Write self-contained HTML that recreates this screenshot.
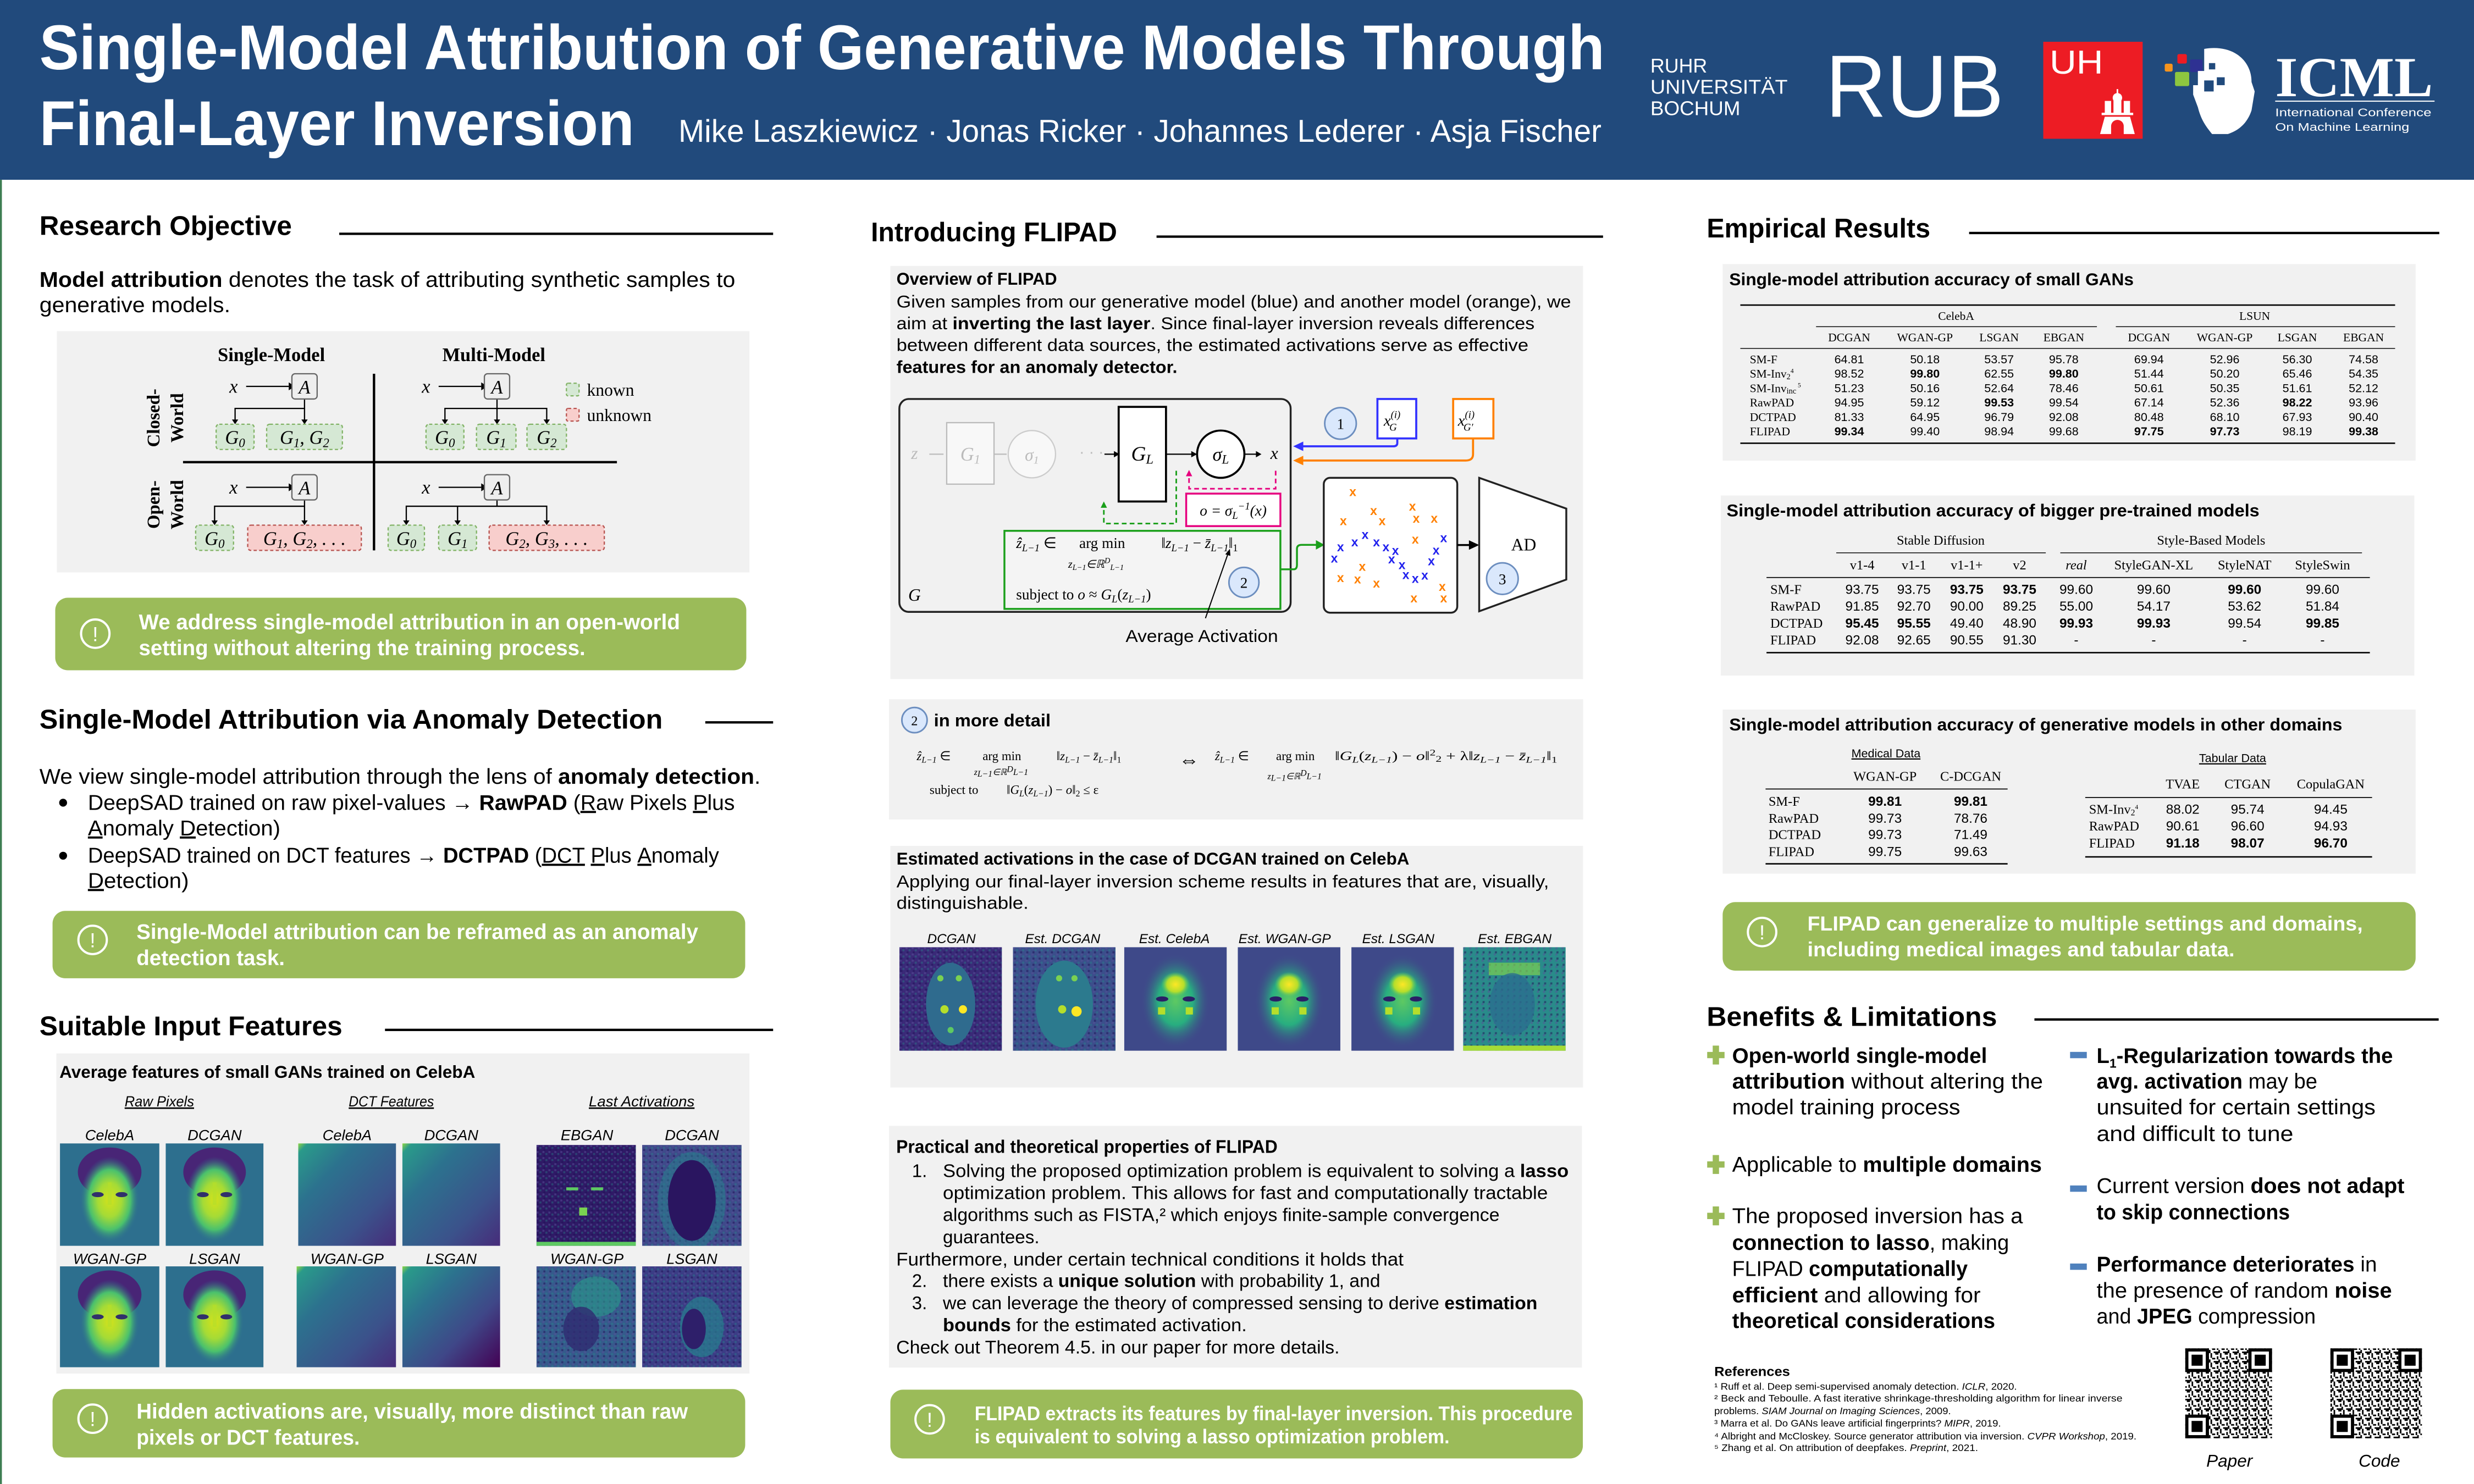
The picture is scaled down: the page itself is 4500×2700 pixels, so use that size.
<!DOCTYPE html>
<html><head><meta charset="utf-8">
<style>
html,body{margin:0;padding:0;background:#fff;}
svg{display:block;}
text{font-family:"Liberation Sans",sans-serif;}
.s{font-family:"Liberation Serif",serif;}
.b{font-weight:bold;}
.i{font-style:italic;}
.w{fill:#fff;}
</style></head><body>
<svg xmlns="http://www.w3.org/2000/svg" width="4500" height="2700" viewBox="0 0 1568 941" preserveAspectRatio="none">
<defs>
<radialGradient id="gface" cx="0.5" cy="0.5" r="0.5"><stop offset="0" stop-color="#d4e21a"/><stop offset="0.4" stop-color="#a5db36"/><stop offset="0.7" stop-color="#4ac16d"/><stop offset="1" stop-color="#2d6f8e" stop-opacity="0"/></radialGradient>
<radialGradient id="gface2" cx="0.5" cy="0.5" r="0.5"><stop offset="0" stop-color="#5ec962"/><stop offset="0.5" stop-color="#28ae80"/><stop offset="1" stop-color="#3e4989" stop-opacity="0"/></radialGradient>
<radialGradient id="gyel" cx="0.5" cy="0.5" r="0.5"><stop offset="0" stop-color="#fde725"/><stop offset="0.6" stop-color="#b5de2b"/><stop offset="1" stop-color="#5ec962" stop-opacity="0"/></radialGradient>
<radialGradient id="gdark" cx="0.5" cy="0.5" r="0.5"><stop offset="0" stop-color="#2a1560"/><stop offset="0.7" stop-color="#33246e"/><stop offset="1" stop-color="#3e4a89" stop-opacity="0"/></radialGradient>
<linearGradient id="gdct" x1="0" y1="0" x2="1" y2="1"><stop offset="0" stop-color="#8fd744"/><stop offset="0.05" stop-color="#2a9a8a"/><stop offset="0.3" stop-color="#2c728e"/><stop offset="0.7" stop-color="#3b528b"/><stop offset="1" stop-color="#472c7a"/></linearGradient>
<linearGradient id="gdct2" x1="0" y1="0" x2="1" y2="1"><stop offset="0" stop-color="#8fd744"/><stop offset="0.05" stop-color="#2a9a8a"/><stop offset="0.3" stop-color="#2c728e"/><stop offset="0.65" stop-color="#3f4788"/><stop offset="1" stop-color="#440154"/></linearGradient>
<pattern id="noise" width="6" height="6" patternUnits="userSpaceOnUse"><rect width="6" height="6" fill="none"/><rect x="0" y="0" width="2" height="2" fill="#5a4e9a" opacity=".5"/><rect x="3" y="2" width="2" height="2" fill="#21918c" opacity=".35"/><rect x="1" y="4" width="2" height="2" fill="#1f0f55" opacity=".5"/></pattern>
<pattern id="qr" width="6" height="6" patternUnits="userSpaceOnUse"><rect width="6" height="6" fill="#fff"/><rect x="0" y="0" width="2" height="1" fill="#000"/><rect x="3" y="0" width="1" height="3" fill="#000"/><rect x="1" y="2" width="1" height="2" fill="#000"/><rect x="4" y="3" width="2" height="1" fill="#000"/><rect x="0" y="5" width="3" height="1" fill="#000"/><rect x="5" y="5" width="1" height="1" fill="#000"/><rect x="2" y="4" width="1" height="1" fill="#000"/></pattern>
<symbol id="raw" viewBox="0 0 100 100" preserveAspectRatio="none"><rect width="100" height="100" fill="#2d6f8e"/><ellipse cx="50" cy="28" rx="32" ry="24" fill="#482576"/><ellipse cx="50" cy="55" rx="30" ry="42" fill="url(#gface)"/><ellipse cx="38" cy="50" rx="6" ry="2.5" fill="#31306b"/><ellipse cx="62" cy="50" rx="6" ry="2.5" fill="#31306b"/><rect x="48" y="38" width="4" height="22" fill="#b5de2b" opacity=".7"/></symbol>
<symbol id="dct" viewBox="0 0 100 100" preserveAspectRatio="none"><rect width="100" height="100" fill="url(#gdct)"/></symbol>
<symbol id="dct2" viewBox="0 0 100 100" preserveAspectRatio="none"><rect width="100" height="100" fill="url(#gdct2)"/></symbol>
<symbol id="actE" viewBox="0 0 100 100" preserveAspectRatio="none"><rect width="100" height="100" fill="#2f1a66"/><rect width="100" height="100" fill="url(#noise)"/><rect x="30" y="42" width="12" height="3" fill="#5ec962"/><rect x="55" y="42" width="12" height="3" fill="#5ec962"/><rect x="43" y="62" width="8" height="8" fill="#7ad151"/><rect x="0" y="96" width="100" height="4" fill="#5ec962"/></symbol>
<symbol id="actD" viewBox="0 0 100 100" preserveAspectRatio="none"><rect width="100" height="100" fill="#3f4a8a"/><rect width="100" height="100" fill="url(#noise)"/><ellipse cx="50" cy="55" rx="34" ry="48" fill="#25848e" opacity=".5"/><ellipse cx="50" cy="55" rx="24" ry="40" fill="#2a1560"/></symbol>
<symbol id="actW" viewBox="0 0 100 100" preserveAspectRatio="none"><rect width="100" height="100" fill="#365a8c"/><rect width="100" height="100" fill="url(#noise)"/><ellipse cx="60" cy="30" rx="25" ry="20" fill="#2a9a8a" opacity=".6"/><ellipse cx="45" cy="62" rx="18" ry="22" fill="#2f2a70" opacity=".8"/></symbol>
<symbol id="actL" viewBox="0 0 100 100" preserveAspectRatio="none"><rect width="100" height="100" fill="#3b3d85"/><rect width="100" height="100" fill="url(#noise)"/><ellipse cx="60" cy="60" rx="22" ry="30" fill="#27808e" opacity=".7"/><ellipse cx="52" cy="62" rx="12" ry="20" fill="#2e1f6a"/></symbol>
<symbol id="estD" viewBox="0 0 100 100" preserveAspectRatio="none"><rect width="100" height="100" fill="#3a2a78"/><rect width="100" height="100" fill="url(#noise)"/><ellipse cx="50" cy="55" rx="24" ry="40" fill="#2f6b8e"/><circle cx="40" cy="30" r="3" fill="#7ad151"/><circle cx="58" cy="30" r="3" fill="#7ad151"/><circle cx="44" cy="60" r="4" fill="#b5de2b"/><circle cx="62" cy="60" r="4" fill="#fde725"/><circle cx="50" cy="80" r="3" fill="#5ec962"/></symbol>
<symbol id="estD2" viewBox="0 0 100 100" preserveAspectRatio="none"><rect width="100" height="100" fill="#3b4f8b"/><rect width="100" height="100" fill="url(#noise)"/><ellipse cx="50" cy="55" rx="28" ry="42" fill="#2c7a8e"/><circle cx="45" cy="30" r="3" fill="#7ad151"/><circle cx="60" cy="30" r="3" fill="#7ad151"/><circle cx="48" cy="60" r="4" fill="#b5de2b"/><circle cx="62" cy="62" r="5" fill="#fde725"/></symbol>
<symbol id="est" viewBox="0 0 100 100" preserveAspectRatio="none"><rect width="100" height="100" fill="#3e4989"/><ellipse cx="50" cy="52" rx="34" ry="46" fill="url(#gface2)"/><ellipse cx="50" cy="36" rx="14" ry="12" fill="url(#gyel)"/><ellipse cx="37" cy="50" rx="6" ry="2.5" fill="#2a1f66"/><ellipse cx="63" cy="50" rx="6" ry="2.5" fill="#2a1f66"/><rect x="33" y="58" width="7" height="7" fill="#b5de2b"/><rect x="60" y="58" width="7" height="7" fill="#b5de2b"/></symbol>
<symbol id="estE" viewBox="0 0 100 100" preserveAspectRatio="none"><rect width="100" height="100" fill="#2a8a8a"/><rect width="100" height="100" fill="url(#noise)"/><rect x="25" y="15" width="50" height="12" fill="#7ad151" opacity=".7"/><ellipse cx="48" cy="55" rx="22" ry="30" fill="#2b6e8e" opacity=".8"/><rect x="0" y="95" width="100" height="5" fill="#a5db36"/></symbol>
</defs>

<!-- header -->
<rect x="0" y="0" width="1568" height="114" fill="#214a7c"/>
<text x="25" y="44" font-size="40" class="b w" textLength="992" lengthAdjust="spacingAndGlyphs">Single-Model Attribution of Generative Models Through</text>
<text x="25" y="92" font-size="40" class="b w" textLength="377" lengthAdjust="spacingAndGlyphs">Final-Layer Inversion</text>
<text x="430" y="90" font-size="20" class="w" textLength="585" lengthAdjust="spacingAndGlyphs">Mike Laszkiewicz · Jonas Ricker · Johannes Lederer · Asja Fischer</text>
<text x="1046" y="46" font-size="12.5" class="w" textLength="36" lengthAdjust="spacingAndGlyphs">RUHR</text>
<text x="1046" y="59.5" font-size="12.5" class="w" textLength="87" lengthAdjust="spacingAndGlyphs">UNIVERSITÄT</text>
<text x="1046" y="73" font-size="12.5" class="w" textLength="57" lengthAdjust="spacingAndGlyphs">BOCHUM</text>
<text x="1157" y="74" font-size="56" class="w" textLength="113" lengthAdjust="spacingAndGlyphs">RUB</text>
<rect x="1295" y="26.5" width="63" height="61.5" fill="#ed1c24"/>
<text x="1299" y="46.7" font-size="21" class="w" textLength="34" lengthAdjust="spacingAndGlyphs">UH</text>
<g fill="#fff"><rect x="1334" y="64" width="4" height="8"/><rect x="1346" y="64" width="4" height="8"/><rect x="1339.5" y="62" width="5" height="10"/><circle cx="1342" cy="62" r="3"/><rect x="1332" y="71.5" width="20" height="1.5"/><path d="M1334 74 H1350 L1353 85 H1346 V80 A4 4 0 0 0 1338 80 V85 H1331 Z"/><rect x="1341.5" y="56.5" width="1" height="4"/></g>
<rect x="1372" y="40.4" width="5" height="5" rx="1" fill="#f7941d"/>
<rect x="1380" y="34.3" width="6" height="6" rx="1" fill="#ed1c24"/>
<rect x="1388" y="37.7" width="8" height="8" rx="1" fill="#2e3192"/>
<rect x="1378.5" y="45.6" width="9" height="9" rx="1" fill="#8dc63f"/>
<path d="M1397 31 C1415 28 1427 38 1427 52 L1429 58 L1427 70 C1424 79 1418 83 1412 85 L1402 85 C1398 80 1395 76 1393 68 L1390 60 V54 H1393 V45 H1397 Z" fill="#fff"/>
<rect x="1400" y="40" width="4" height="4" fill="#214a7c"/><rect x="1405" y="49" width="5" height="5" fill="#214a7c"/><rect x="1397" y="51" width="6" height="7" fill="#214a7c"/>
<text x="1442" y="61" font-size="36" class="b w s" textLength="100" lengthAdjust="spacingAndGlyphs">ICML</text>
<rect x="1442" y="63.8" width="101" height="0.7" fill="#fff"/>
<text x="1442" y="73.7" font-size="7" class="w" textLength="99" lengthAdjust="spacingAndGlyphs">International Conference</text>
<text x="1442" y="83" font-size="7" class="w" textLength="85" lengthAdjust="spacingAndGlyphs">On Machine Learning</text>
<rect x="0" y="114" width="1.2" height="827" fill="#3d7d52"/>

<!-- LEFT COLUMN -->
<text x="25" y="149" font-size="17" class="b" textLength="160" lengthAdjust="spacingAndGlyphs">Research Objective</text>
<rect x="215" y="147.5" width="275" height="1.5" fill="#000"/>
<text x="25" y="182" font-size="13.5" textLength="441" lengthAdjust="spacingAndGlyphs"><tspan class="b">Model attribution</tspan> denotes the task of attributing synthetic samples to</text>
<text x="25" y="198" font-size="13.5" textLength="121" lengthAdjust="spacingAndGlyphs">generative models.</text>
<rect x="36" y="210" width="439" height="153" fill="#f1f1f1"/>
<g class="s">
<text x="172" y="229" font-size="12" class="b s" text-anchor="middle">Single-Model</text>
<text x="313" y="229" font-size="12" class="b s" text-anchor="middle">Multi-Model</text>
<text transform="translate(101,265) rotate(-90)" font-size="11.5" class="b s" text-anchor="middle">Closed-</text>
<text transform="translate(116,265) rotate(-90)" font-size="11.5" class="b s" text-anchor="middle">World</text>
<text transform="translate(101,320) rotate(-90)" font-size="11.5" class="b s" text-anchor="middle">Open-</text>
<text transform="translate(116,320) rotate(-90)" font-size="11.5" class="b s" text-anchor="middle">World</text>
</g>
<rect x="236.3" y="237" width="1.5" height="112" fill="#000"/>
<rect x="116" y="292.3" width="275" height="1.5" fill="#000"/>
<g stroke="#000" stroke-width="0.8" fill="none">
<path d="M156 245 H183"/><path d="M278 245 H305"/><path d="M156 309 H183"/><path d="M278 309 H305"/>
<path d="M193 253 V259 H149 V267"/><path d="M193 259 V267"/>
<path d="M315 253 V259 H282 V267 M315 259 V267 M315 259 H346.5 V267"/>
<path d="M193 317 V321 H136 V331 M193 321 V331"/>
<path d="M315 317 V321 H257.5 V331 M290 321 V331 M315 321 H346.5 V331"/>
</g>
<g fill="#000"><path d="M183 242.5 L187 245 L183 247.5Z"/><path d="M305 242.5 L309 245 L305 247.5Z"/><path d="M183 306.5 L187 309 L183 311.5Z"/><path d="M305 306.5 L309 309 L305 311.5Z"/>
<path d="M147 266 L151 266 L149 269Z"/><path d="M191 266 L195 266 L193 269Z"/><path d="M280 266 L284 266 L282 269Z"/><path d="M313 266 L317 266 L315 269Z"/><path d="M344.5 266 L348.5 266 L346.5 269Z"/>
<path d="M134 330 L138 330 L136 333Z"/><path d="M191 330 L195 330 L193 333Z"/><path d="M255.5 330 L259.5 330 L257.5 333Z"/><path d="M288 330 L292 330 L290 333Z"/><path d="M344.5 330 L348.5 330 L346.5 333Z"/></g>
<g fill="#eee" stroke="#666" stroke-width="0.8"><rect x="185" y="237" width="16" height="16" rx="2"/><rect x="307" y="237" width="16" height="16" rx="2"/><rect x="185" y="301" width="16" height="16" rx="2"/><rect x="307" y="301" width="16" height="16" rx="2"/></g>
<g fill="#d5e8d4" stroke="#82b366" stroke-width="0.8" stroke-dasharray="2,1.5"><rect x="137" y="269" width="24" height="16" rx="2"/><rect x="169" y="269" width="48" height="16" rx="2"/><rect x="270" y="269" width="24" height="16" rx="2"/><rect x="302" y="269" width="25" height="16" rx="2"/><rect x="334" y="269" width="25" height="16" rx="2"/><rect x="124" y="333" width="24" height="16" rx="2"/><rect x="246" y="333" width="23" height="16" rx="2"/><rect x="278" y="333" width="24" height="16" rx="2"/><rect x="359" y="243" width="8" height="8" rx="1"/></g>
<g fill="#f8cecc" stroke="#b85450" stroke-width="0.8" stroke-dasharray="2,1.5"><rect x="157" y="333" width="72" height="16" rx="2"/><rect x="310" y="333" width="73" height="16" rx="2"/><rect x="359" y="259" width="8" height="8" rx="1"/></g>
<g class="s i" font-size="12" text-anchor="middle">
<text x="148" y="249" class="s i">x</text><text x="270" y="249" class="s i">x</text><text x="148" y="313" class="s i">x</text><text x="270" y="313" class="s i">x</text>
<text x="193" y="249.5" class="s i">A</text><text x="315" y="249.5" class="s i">A</text><text x="193" y="313.5" class="s i">A</text><text x="315" y="313.5" class="s i">A</text>
<text x="149" y="281.5" class="s i">G<tspan font-size="8" dy="2">0</tspan></text>
<text x="193" y="281.5" class="s i">G<tspan font-size="8" dy="2">1</tspan><tspan dy="-2">, G</tspan><tspan font-size="8" dy="2">2</tspan></text>
<text x="282" y="281.5" class="s i">G<tspan font-size="8" dy="2">0</tspan></text>
<text x="314.5" y="281.5" class="s i">G<tspan font-size="8" dy="2">1</tspan></text>
<text x="346.5" y="281.5" class="s i">G<tspan font-size="8" dy="2">2</tspan></text>
<text x="136" y="345.5" class="s i">G<tspan font-size="8" dy="2">0</tspan></text>
<text x="193" y="345.5" class="s i">G<tspan font-size="8" dy="2">1</tspan><tspan dy="-2">, G</tspan><tspan font-size="8" dy="2">2</tspan><tspan dy="-2">, . . .</tspan></text>
<text x="257.5" y="345.5" class="s i">G<tspan font-size="8" dy="2">0</tspan></text>
<text x="290" y="345.5" class="s i">G<tspan font-size="8" dy="2">1</tspan></text>
<text x="346.5" y="345.5" class="s i">G<tspan font-size="8" dy="2">2</tspan><tspan dy="-2">, G</tspan><tspan font-size="8" dy="2">3</tspan><tspan dy="-2">, . . .</tspan></text>
</g>
<text x="372" y="251" font-size="11" class="s">known</text>
<text x="372" y="267" font-size="11" class="s">unknown</text>

<rect x="35" y="379" width="438" height="46" rx="8" fill="#9bbb59"/>
<circle cx="60.4" cy="401.8" r="9" fill="none" stroke="#fff" stroke-width="1.4"/><text x="60.4" y="406.5" font-size="13" class="w" text-anchor="middle">!</text>
<text x="88" y="399" font-size="13.5" class="b w" textLength="343" lengthAdjust="spacingAndGlyphs">We address single-model attribution in an open-world</text>
<text x="88" y="415.5" font-size="13.5" class="b w" textLength="283" lengthAdjust="spacingAndGlyphs">setting without altering the training process.</text>

<text x="25" y="462" font-size="17" class="b" textLength="395" lengthAdjust="spacingAndGlyphs">Single-Model Attribution via Anomaly Detection</text>
<rect x="447" y="457.3" width="43" height="1.5" fill="#000"/>
<text x="25" y="497" font-size="13.5" textLength="457" lengthAdjust="spacingAndGlyphs">We view single-model attribution through the lens of <tspan class="b">anomaly detection</tspan>.</text>
<circle cx="40" cy="509" r="2.5" fill="#000"/><circle cx="40" cy="542.6" r="2.5" fill="#000"/>
<text x="55.7" y="513.5" font-size="13.5" textLength="410" lengthAdjust="spacingAndGlyphs">DeepSAD trained on raw pixel-values →  <tspan class="b">RawPAD</tspan> (<tspan text-decoration="underline">R</tspan>aw Pixels <tspan text-decoration="underline">P</tspan>lus</text>
<text x="55.7" y="529.7" font-size="13.5" textLength="122" lengthAdjust="spacingAndGlyphs"><tspan text-decoration="underline">A</tspan>nomaly <tspan text-decoration="underline">D</tspan>etection)</text>
<text x="55.7" y="547" font-size="13.5" textLength="400" lengthAdjust="spacingAndGlyphs">DeepSAD trained on DCT features →  <tspan class="b">DCTPAD</tspan> (<tspan text-decoration="underline">DCT</tspan> <tspan text-decoration="underline">P</tspan>lus <tspan text-decoration="underline">A</tspan>nomaly</text>
<text x="55.7" y="563" font-size="13.5" textLength="64" lengthAdjust="spacingAndGlyphs"><tspan text-decoration="underline">D</tspan>etection)</text>

<rect x="33.3" y="577.6" width="439" height="42.7" rx="8" fill="#9bbb59"/>
<circle cx="58.7" cy="596" r="9" fill="none" stroke="#fff" stroke-width="1.4"/><text x="58.7" y="600.7" font-size="13" class="w" text-anchor="middle">!</text>
<text x="86.5" y="595.5" font-size="13.5" class="b w" textLength="356" lengthAdjust="spacingAndGlyphs">Single-Model attribution can be reframed as an anomaly</text>
<text x="86.5" y="612" font-size="13.5" class="b w" textLength="94" lengthAdjust="spacingAndGlyphs">detection task.</text>

<text x="25" y="656.5" font-size="17" class="b" textLength="192" lengthAdjust="spacingAndGlyphs">Suitable Input Features</text>
<rect x="244" y="652.3" width="246" height="1.5" fill="#000"/>
<rect x="35.7" y="668" width="439.3" height="203" fill="#f1f1f1"/>
<text x="37.7" y="683.5" font-size="11" class="b" textLength="263.5" lengthAdjust="spacingAndGlyphs">Average features of small GANs trained on CelebA</text>
<g font-size="9.5" class="i" text-anchor="middle">
<text x="101" y="701.5" class="i" text-decoration="underline" textLength="44" lengthAdjust="spacingAndGlyphs">Raw Pixels</text>
<text x="248" y="701.5" class="i" text-decoration="underline" textLength="54" lengthAdjust="spacingAndGlyphs">DCT Features</text>
<text x="406.7" y="701.5" class="i" text-decoration="underline" textLength="67" lengthAdjust="spacingAndGlyphs">Last Activations</text>
<text x="69.5" y="723" class="i">CelebA</text><text x="136" y="723" class="i">DCGAN</text><text x="220" y="723" class="i">CelebA</text><text x="286" y="723" class="i">DCGAN</text><text x="372" y="723" class="i">EBGAN</text><text x="438.5" y="723" class="i">DCGAN</text>
<text x="69.5" y="801.5" class="i">WGAN-GP</text><text x="136" y="801.5" class="i">LSGAN</text><text x="220" y="801.5" class="i">WGAN-GP</text><text x="286" y="801.5" class="i">LSGAN</text><text x="372" y="801.5" class="i">WGAN-GP</text><text x="438.5" y="801.5" class="i">LSGAN</text>
</g>
<use href="#raw" x="38" y="725" width="63" height="65"/><use href="#raw" x="105" y="725" width="62" height="65"/>
<use href="#dct" x="189" y="725" width="62" height="65"/><use href="#dct" x="255" y="725" width="62" height="65"/>
<use href="#actE" x="340" y="726" width="63" height="64"/><use href="#actD" x="407" y="726" width="63" height="64"/>
<use href="#raw" x="38" y="803" width="63" height="64"/><use href="#raw" x="105" y="803" width="62" height="64"/>
<use href="#dct" x="188" y="803" width="63" height="64"/><use href="#dct2" x="255" y="803" width="62" height="64"/>
<use href="#actW" x="340" y="803" width="63" height="64"/><use href="#actL" x="407" y="803" width="63" height="64"/>

<rect x="33.3" y="880.8" width="439" height="43.4" rx="8" fill="#9bbb59"/>
<circle cx="58.7" cy="899.6" r="9" fill="none" stroke="#fff" stroke-width="1.4"/><text x="58.7" y="904.3" font-size="13" class="w" text-anchor="middle">!</text>
<text x="86.5" y="899.5" font-size="13.5" class="b w" textLength="349.5" lengthAdjust="spacingAndGlyphs">Hidden activations are, visually,  more distinct than raw</text>
<text x="86.5" y="916" font-size="13.5" class="b w" textLength="141.5" lengthAdjust="spacingAndGlyphs">pixels or DCT features.</text>

<!-- MIDDLE COLUMN -->
<text x="552" y="153" font-size="17" class="b" textLength="156" lengthAdjust="spacingAndGlyphs">Introducing FLIPAD</text>
<rect x="733" y="149.3" width="283" height="1.5" fill="#000"/>
<rect x="564.3" y="168.6" width="439" height="262" fill="#f1f1f1"/>
<text x="568.2" y="180.5" font-size="11" class="b" textLength="101.7" lengthAdjust="spacingAndGlyphs">Overview of FLIPAD</text>
<text x="568.2" y="195" font-size="11" textLength="427.5" lengthAdjust="spacingAndGlyphs">Given samples from our generative model (blue) and another model (orange), we</text>
<text x="568.2" y="208.8" font-size="11" textLength="404.4" lengthAdjust="spacingAndGlyphs">aim at <tspan class="b">inverting the last layer</tspan>. Since final-layer inversion reveals differences</text>
<text x="568.2" y="222.6" font-size="11" textLength="400.5" lengthAdjust="spacingAndGlyphs">between different data sources, the estimated activations serve as effective</text>
<text x="568.2" y="236.4" font-size="11" class="b" textLength="178" lengthAdjust="spacingAndGlyphs">features for an anomaly detector.</text>

<!-- diagram -->
<rect x="570" y="253" width="248" height="135" rx="6" fill="none" stroke="#222" stroke-width="1.2"/>
<text x="579.6" y="291" font-size="11" class="s i" fill="#bbb" text-anchor="middle">z</text>
<path d="M589 288 H598" stroke="#bbb" stroke-width="0.8"/>
<rect x="600" y="268" width="30" height="39" fill="#f8f8f8" stroke="#bbb" stroke-width="0.8"/>
<text x="615" y="292" font-size="12" class="s i" fill="#bbb" text-anchor="middle">G<tspan font-size="8" dy="2">1</tspan></text>
<path d="M630 288 H638" stroke="#bbb" stroke-width="0.8"/>
<circle cx="654" cy="288" r="15" fill="#f8f8f8" stroke="#ccc" stroke-width="0.8"/>
<text x="654" y="292" font-size="11" class="s i" fill="#bbb" text-anchor="middle">σ<tspan font-size="7" dy="2">1</tspan></text>
<text x="684" y="290" font-size="10" fill="#bbb">· · ·</text>
<path d="M700 288 H707" stroke="#000" stroke-width="0.8"/><path d="M706 286 L709.5 288 L706 290Z"/>
<rect x="709" y="258" width="30" height="60" fill="#fff" stroke="#000" stroke-width="1.3"/>
<text x="724" y="292" font-size="13" class="s i" text-anchor="middle">G<tspan font-size="8.5" dy="2">L</tspan></text>
<path d="M739 288 H756" stroke="#000" stroke-width="0.8"/><path d="M755 286 L758.7 288 L755 290Z"/>
<circle cx="773.7" cy="288" r="15" fill="#fff" stroke="#000" stroke-width="1.3"/>
<text x="773.7" y="292" font-size="12" class="s i" text-anchor="middle">σ<tspan font-size="8" dy="2">L</tspan></text>
<path d="M788.7 288 H797" stroke="#000" stroke-width="0.8"/><path d="M796 286 L799.5 288 L796 290Z"/>
<text x="807.6" y="291" font-size="11" class="s i" text-anchor="middle">x</text>
<path d="M745.5 298.5 V332 H699.6 V322" fill="none" stroke="#1a9f1a" stroke-width="1" stroke-dasharray="3,2"/>
<path d="M697.6 322 L699.6 318 L701.6 322Z" fill="#1a9f1a"/>
<path d="M808.5 298.5 V309.9 H753.6 V302" fill="none" stroke="#e6007e" stroke-width="1" stroke-dasharray="3,2"/>
<path d="M751.6 302 L753.6 298 L755.6 302Z" fill="#e6007e"/>
<rect x="751.8" y="313" width="59.7" height="20.6" fill="#fff" stroke="#e6007e" stroke-width="1.2"/>
<text x="781.6" y="327" font-size="9.5" class="s i" text-anchor="middle">o = σ<tspan font-size="6.5" dy="2">L</tspan><tspan font-size="6.5" dy="-6">−1</tspan><tspan dy="4">(x)</tspan></text>
<rect x="636.6" y="336.6" width="174.9" height="49.5" fill="#f4f4f4" stroke="#1a9f1a" stroke-width="1.2"/>
<text x="644" y="347.5" font-size="9.5" class="s"><tspan class="i">ẑ</tspan><tspan font-size="6.5" dy="2" class="i">L−1</tspan><tspan dy="-2"> ∈</tspan></text>
<text x="684" y="347.5" font-size="9.5" class="s">arg min</text>
<text x="736" y="347.5" font-size="9.5" class="s">‖<tspan class="i">z</tspan><tspan font-size="6.5" dy="2" class="i">L−1</tspan><tspan dy="-2"> − </tspan><tspan class="i">z̄</tspan><tspan font-size="6.5" dy="2" class="i">L−1</tspan><tspan dy="-2">‖</tspan><tspan font-size="6.5" dy="2">1</tspan></text>
<text x="677" y="360" font-size="7" class="s i">z<tspan font-size="5" dy="1.5">L−1</tspan><tspan dy="-1.5">∈ℝ</tspan><tspan font-size="5" dy="-3">D</tspan><tspan font-size="5" dy="4.5">L−1</tspan></text>
<text x="644" y="380" font-size="9.5" class="s">subject to <tspan class="i">o</tspan> ≈ <tspan class="i">G</tspan><tspan font-size="6.5" dy="2" class="i">L</tspan><tspan dy="-2">(</tspan><tspan class="i">z</tspan><tspan font-size="6.5" dy="2" class="i">L−1</tspan><tspan dy="-2">)</tspan></text>
<text x="579.6" y="381" font-size="11" class="s i" text-anchor="middle">G</text>
<path d="M764 392 L778.5 350.5" stroke="#000" stroke-width="0.7"/><path d="M776.6 351.5 L779.5 348 L779.8 352.5Z"/>
<circle cx="788.4" cy="369.3" r="9.5" fill="#dae8fc" stroke="#6c8ebf" stroke-width="1"/><text x="788.4" y="372.8" font-size="9.5" class="s" text-anchor="middle">2</text>
<text x="761.7" y="407" font-size="11" text-anchor="middle" textLength="96.6" lengthAdjust="spacingAndGlyphs">Average Activation</text>
<path d="M811.5 361 H820 Q822 361 822 358 V348 Q822 345.5 825 345.5 H834" fill="none" stroke="#1a9f1a" stroke-width="1.2"/><path d="M834 342.5 L839.5 345.5 L834 348.5Z" fill="#1a9f1a"/>
<circle cx="849.6" cy="268.5" r="10" fill="#dae8fc" stroke="#6c8ebf" stroke-width="1"/><text x="849.6" y="272" font-size="9.5" class="s" text-anchor="middle">1</text>
<rect x="873" y="253" width="24.6" height="25" fill="#fff" stroke="#3333ff" stroke-width="1.3"/>
<text x="877" y="270" font-size="10" class="s i">x<tspan font-size="6.5" dy="-5">(i)</tspan><tspan font-size="6.5" dy="8" dx="-7">G</tspan></text>
<rect x="921" y="253" width="25.5" height="25" fill="#fff" stroke="#ff8000" stroke-width="1.3"/>
<text x="924" y="270" font-size="10" class="s i">x<tspan font-size="6.5" dy="-5">(i)</tspan><tspan font-size="6.5" dy="8" dx="-7">G′</tspan></text>
<path d="M885.6 278 V281 Q885.6 283 883 283 H825" fill="none" stroke="#3333ff" stroke-width="1.3"/><path d="M826 280 L819.6 283 L826 286Z" fill="#3333ff"/>
<path d="M933.6 278 V288 Q933.6 292 929 292 H825" fill="none" stroke="#ff8000" stroke-width="1.3"/><path d="M826 289 L819.6 292 L826 295Z" fill="#ff8000"/>
<rect x="839" y="303" width="84.6" height="85.5" rx="4" fill="#fff" stroke="#222" stroke-width="1.2"/>
<g font-size="8" class="b" text-anchor="middle" fill="#ff8000">
<text x="857.4" y="314.5">x</text><text x="870.6" y="326.5">x</text><text x="876" y="333">x</text><text x="851.4" y="333">x</text><text x="895.2" y="323.7">x</text><text x="897.6" y="331.5">x</text><text x="909" y="331.5">x</text><text x="897" y="344.7">x</text><text x="863.4" y="362">x</text><text x="849.6" y="369">x</text><text x="860.4" y="369.9">x</text><text x="872.4" y="372.6">x</text><text x="914.1" y="374.7">x</text><text x="896.1" y="381.9">x</text><text x="915" y="381.9">x</text></g>
<g font-size="8" class="b" text-anchor="middle" fill="#2222ee">
<text x="915" y="343.8">x</text><text x="910.2" y="351.6">x</text><text x="907.2" y="358.5">x</text><text x="849.6" y="349.5">x</text><text x="845.7" y="356.7">x</text><text x="858.6" y="346.5">x</text><text x="865.2" y="341.7">x</text><text x="872.4" y="346.5">x</text><text x="878.4" y="349.5">x</text><text x="884.4" y="351.9">x</text><text x="882" y="357.3">x</text><text x="888.6" y="360.9">x</text><text x="891" y="367.2">x</text><text x="897" y="369.6">x</text><text x="903" y="367.5">x</text></g>
<path d="M923.6 345.6 H932" stroke="#000" stroke-width="1.2"/><path d="M931 342.6 L937.5 345.6 L931 348.6Z"/>
<path d="M937.5 303 L992.7 322.5 V367.5 L937.5 387.6 Z" fill="#fff" stroke="#222" stroke-width="1.2"/>
<text x="965.7" y="349" font-size="11" class="s" text-anchor="middle">AD</text>
<circle cx="952.2" cy="366.9" r="10" fill="#dae8fc" stroke="#6c8ebf" stroke-width="1"/><text x="952.2" y="370.4" font-size="9.5" class="s" text-anchor="middle">3</text>

<!-- box 2 -->
<rect x="563.4" y="443.4" width="440" height="76.2" fill="#f1f1f1"/>
<circle cx="579.6" cy="456.6" r="8" fill="#dae8fc" stroke="#6c8ebf" stroke-width="1"/><text x="579.6" y="459.8" font-size="8.5" class="s" text-anchor="middle">2</text>
<text x="591.9" y="460.5" font-size="11" class="b" textLength="74" lengthAdjust="spacingAndGlyphs">in more detail</text>
<g class="s" font-size="8">
<text x="581" y="482" class="s"><tspan class="i">ẑ</tspan><tspan font-size="5.5" dy="1.5" class="i">L−1</tspan><tspan dy="-1.5"> ∈</tspan></text>
<text x="635" y="482" class="s" text-anchor="middle">arg min</text>
<text x="669.6" y="482" class="s">‖<tspan class="i">z</tspan><tspan font-size="5.5" dy="1.5" class="i">L−1</tspan><tspan dy="-1.5"> − </tspan><tspan class="i">z̄</tspan><tspan font-size="5.5" dy="1.5" class="i">L−1</tspan><tspan dy="-1.5">‖</tspan><tspan font-size="5.5" dy="1.5">1</tspan></text>
<text x="634.5" y="491.5" font-size="5.5" class="s i" text-anchor="middle">z<tspan dy="1">L−1</tspan><tspan dy="-1">∈ℝ</tspan><tspan dy="-2">D</tspan><tspan dy="2">L−1</tspan></text>
<text x="589.2" y="503.5" class="s">subject to</text>
<text x="638" y="503.5" class="s">‖<tspan class="i">G</tspan><tspan font-size="5.5" dy="1.5" class="i">L</tspan><tspan dy="-1.5">(</tspan><tspan class="i">z</tspan><tspan font-size="5.5" dy="1.5" class="i">L−1</tspan><tspan dy="-1.5">) − </tspan><tspan class="i">o</tspan>‖<tspan font-size="5.5" dy="1.5">2</tspan><tspan dy="-1.5"> ≤ ε</tspan></text>
<text x="753.6" y="486" font-size="13" class="s" text-anchor="middle">⇔</text>
<text x="770" y="482" class="s"><tspan class="i">ẑ</tspan><tspan font-size="5.5" dy="1.5" class="i">L−1</tspan><tspan dy="-1.5"> ∈</tspan></text>
<text x="821" y="482" class="s" text-anchor="middle">arg min</text>
<text x="820.5" y="494" font-size="5.5" class="s i" text-anchor="middle">z<tspan dy="1">L−1</tspan><tspan dy="-1">∈ℝ</tspan><tspan dy="-2">D</tspan><tspan dy="2">L−1</tspan></text>
<text x="846" y="482" class="s" textLength="141" lengthAdjust="spacingAndGlyphs">‖<tspan class="i">G</tspan><tspan font-size="5.5" dy="1.5" class="i">L</tspan><tspan dy="-1.5">(</tspan><tspan class="i">z</tspan><tspan font-size="5.5" dy="1.5" class="i">L−1</tspan><tspan dy="-1.5">) − </tspan><tspan class="i">o</tspan>‖<tspan font-size="5.5" dy="-3">2</tspan><tspan font-size="5.5" dy="4">2</tspan><tspan dy="-1"> + λ‖</tspan><tspan class="i">z</tspan><tspan font-size="5.5" dy="1.5" class="i">L−1</tspan><tspan dy="-1.5"> − </tspan><tspan class="i">z̄</tspan><tspan font-size="5.5" dy="1.5" class="i">L−1</tspan><tspan dy="-1.5">‖</tspan><tspan font-size="5.5" dy="1.5">1</tspan></text>
</g>

<!-- box 3 -->
<rect x="564.3" y="536.4" width="439" height="153.2" fill="#f1f1f1"/>
<text x="568.2" y="548.3" font-size="11" class="b" textLength="325" lengthAdjust="spacingAndGlyphs">Estimated activations in the case of DCGAN trained on CelebA</text>
<text x="568.2" y="562.7" font-size="11" textLength="413.5" lengthAdjust="spacingAndGlyphs">Applying our final-layer inversion scheme results in features that are, visually,</text>
<text x="568.2" y="576.2" font-size="11" textLength="83.7" lengthAdjust="spacingAndGlyphs">distinguishable.</text>
<g font-size="8.5" class="i" text-anchor="middle">
<text x="603" y="598" class="i">DCGAN</text><text x="673.5" y="598" class="i">Est. DCGAN</text><text x="744.3" y="598" class="i">Est. CelebA</text><text x="814.2" y="598" class="i">Est. WGAN-GP</text><text x="886.2" y="598" class="i">Est. LSGAN</text><text x="960" y="598" class="i">Est. EBGAN</text></g>
<use href="#estD" x="570" y="600.6" width="65" height="65.7"/>
<use href="#estD2" x="642" y="600.6" width="65" height="65.7"/>
<use href="#est" x="712.5" y="600.6" width="65" height="65.7"/>
<use href="#est" x="784.5" y="600.6" width="65" height="65.7"/>
<use href="#est" x="856.5" y="600.6" width="65" height="65.7"/>
<use href="#estE" x="927.3" y="600.6" width="65" height="65.7"/>

<!-- box 4 -->
<rect x="563.4" y="713.9" width="439.2" height="153.3" fill="#f1f1f1"/>
<g font-size="11.5">
<text x="568" y="731" class="b" textLength="241.7" lengthAdjust="spacingAndGlyphs">Practical and theoretical properties of FLIPAD</text>
<text x="578" y="746.3">1.</text>
<text x="597.6" y="746.3" textLength="396.6" lengthAdjust="spacingAndGlyphs">Solving the proposed optimization problem is equivalent to solving a <tspan class="b">lasso</tspan></text>
<text x="597.6" y="760.3" textLength="383.4" lengthAdjust="spacingAndGlyphs">optimization problem. This allows for fast and computationally tractable</text>
<text x="597.6" y="774.2" textLength="352.8" lengthAdjust="spacingAndGlyphs">algorithms such as FISTA,² which enjoys finite-sample convergence</text>
<text x="597.6" y="788.4" textLength="61.2" lengthAdjust="spacingAndGlyphs">guarantees.</text>
<text x="568" y="802.5" textLength="321.6" lengthAdjust="spacingAndGlyphs">Furthermore, under certain technical conditions it holds that</text>
<text x="578" y="816.1">2.</text>
<text x="597.6" y="816.1" textLength="277.2" lengthAdjust="spacingAndGlyphs">there exists a <tspan class="b">unique solution</tspan> with probability 1, and</text>
<text x="578" y="830.2">3.</text>
<text x="597.6" y="830.2" textLength="376.8" lengthAdjust="spacingAndGlyphs">we can leverage the theory of compressed sensing to derive <tspan class="b">estimation</tspan></text>
<text x="597.6" y="844.2" textLength="192.6" lengthAdjust="spacingAndGlyphs"><tspan class="b">bounds</tspan> for the estimated activation.</text>
<text x="568" y="858.3" textLength="281" lengthAdjust="spacingAndGlyphs">Check out Theorem 4.5. in our paper for more details.</text>
</g>
<rect x="564.3" y="881.2" width="438.9" height="43.6" rx="8" fill="#9bbb59"/>
<circle cx="589.2" cy="900" r="9" fill="none" stroke="#fff" stroke-width="1.4"/><text x="589.2" y="904.7" font-size="13" class="w" text-anchor="middle">!</text>
<text x="617.7" y="900.5" font-size="12.5" class="b w" textLength="379" lengthAdjust="spacingAndGlyphs">FLIPAD extracts its features by final-layer inversion. This procedure</text>
<text x="617.7" y="915.2" font-size="12.5" class="b w" textLength="301" lengthAdjust="spacingAndGlyphs">is equivalent to solving a lasso optimization problem.</text>

<!-- RIGHT COLUMN -->
<text x="1081.7" y="150.5" font-size="17" class="b" textLength="141.7" lengthAdjust="spacingAndGlyphs">Empirical Results</text>
<rect x="1248" y="147" width="298" height="1.5" fill="#000"/>
<rect x="1091.8" y="167.4" width="439.2" height="124.7" fill="#f1f1f1"/>
<text x="1096" y="180.8" font-size="11" class="b" textLength="256.3" lengthAdjust="spacingAndGlyphs">Single-model attribution accuracy of small GANs</text>
<g class="s" font-size="7.5" text-anchor="middle">
<rect x="1103" y="193" width="415" height="0.9" fill="#000"/>
<text x="1239.8" y="202.8" class="s">CelebA</text><text x="1429" y="202.8" class="s">LSUN</text>
<rect x="1151" y="206.9" width="178" height="0.5" fill="#000"/><rect x="1341" y="206.9" width="177" height="0.5" fill="#000"/>
<text x="1172" y="216.4" class="s">DCGAN</text><text x="1220" y="216.4" class="s">WGAN-GP</text><text x="1267" y="216.4" class="s">LSGAN</text><text x="1308" y="216.4" class="s">EBGAN</text><text x="1362" y="216.4" class="s">DCGAN</text><text x="1410" y="216.4" class="s">WGAN-GP</text><text x="1456" y="216.4" class="s">LSGAN</text><text x="1498" y="216.4" class="s">EBGAN</text>
<rect x="1103" y="220.7" width="415" height="0.5" fill="#000"/>
<g text-anchor="start"><text x="1109" y="230.3" class="s">SM-F</text><text x="1109" y="239.5" class="s">SM-Inv<tspan font-size="5" dy="1">2</tspan><tspan font-size="4" dy="-4">4</tspan></text><text x="1109" y="248.6" class="s">SM-Inv<tspan font-size="5" dy="1">inc</tspan><tspan font-size="4" dy="-4"> 5</tspan></text><text x="1109" y="257.8" class="s">RawPAD</text><text x="1109" y="266.9" class="s">DCTPAD</text><text x="1109" y="276.1" class="s">FLIPAD</text></g>
<g><text x="1172" y="230.3">64.81</text><text x="1220" y="230.3">50.18</text><text x="1267" y="230.3">53.57</text><text x="1308" y="230.3">95.78</text><text x="1362" y="230.3">69.94</text><text x="1410" y="230.3">52.96</text><text x="1456" y="230.3">56.30</text><text x="1498" y="230.3">74.58</text>
<text x="1172" y="239.5">98.52</text><text x="1220" y="239.5" class="b">99.80</text><text x="1267" y="239.5">62.55</text><text x="1308" y="239.5" class="b">99.80</text><text x="1362" y="239.5">51.44</text><text x="1410" y="239.5">50.20</text><text x="1456" y="239.5">65.46</text><text x="1498" y="239.5">54.35</text>
<text x="1172" y="248.6">51.23</text><text x="1220" y="248.6">50.16</text><text x="1267" y="248.6">52.64</text><text x="1308" y="248.6">78.46</text><text x="1362" y="248.6">50.61</text><text x="1410" y="248.6">50.35</text><text x="1456" y="248.6">51.61</text><text x="1498" y="248.6">52.12</text>
<text x="1172" y="257.8">94.95</text><text x="1220" y="257.8">59.12</text><text x="1267" y="257.8" class="b">99.53</text><text x="1308" y="257.8">99.54</text><text x="1362" y="257.8">67.14</text><text x="1410" y="257.8">52.36</text><text x="1456" y="257.8" class="b">98.22</text><text x="1498" y="257.8">93.96</text>
<text x="1172" y="266.9">81.33</text><text x="1220" y="266.9">64.95</text><text x="1267" y="266.9">96.79</text><text x="1308" y="266.9">92.08</text><text x="1362" y="266.9">80.48</text><text x="1410" y="266.9">68.10</text><text x="1456" y="266.9">67.93</text><text x="1498" y="266.9">90.40</text>
<text x="1172" y="276.1" class="b">99.34</text><text x="1220" y="276.1">99.40</text><text x="1267" y="276.1">98.94</text><text x="1308" y="276.1">99.68</text><text x="1362" y="276.1" class="b">97.75</text><text x="1410" y="276.1" class="b">97.73</text><text x="1456" y="276.1">98.19</text><text x="1498" y="276.1" class="b">99.38</text></g>
<rect x="1103" y="280.6" width="415" height="0.9" fill="#000"/>
</g>

<rect x="1090.6" y="314.2" width="439.6" height="114.2" fill="#f1f1f1"/>
<text x="1094.3" y="327.5" font-size="11" class="b" textLength="337.7" lengthAdjust="spacingAndGlyphs">Single-model attribution accuracy of bigger pre-trained models</text>
<g class="s" font-size="8.5" text-anchor="middle">
<text x="1230" y="345.3" class="s">Stable Diffusion</text><text x="1401.4" y="345.3" class="s">Style-Based Models</text>
<rect x="1163.8" y="350.3" width="132.8" height="0.5" fill="#000"/><rect x="1305.8" y="350.3" width="191.2" height="0.5" fill="#000"/>
<text x="1180.2" y="361" class="s">v1-4</text><text x="1213" y="361" class="s">v1-1</text><text x="1246.5" y="361" class="s">v1-1+</text><text x="1280" y="361" class="s">v2</text><text x="1315.9" y="361" class="s i">real</text><text x="1365" y="361" class="s">StyleGAN-XL</text><text x="1422.6" y="361" class="s">StyleNAT</text><text x="1472" y="361" class="s">StyleSwin</text>
<rect x="1119.6" y="365.9" width="382.4" height="0.6" fill="#000"/>
<g text-anchor="start"><text x="1122" y="376.5" class="s">SM-F</text><text x="1122" y="387.2" class="s">RawPAD</text><text x="1122" y="398" class="s">DCTPAD</text><text x="1122" y="408.7" class="s">FLIPAD</text></g>
<text x="1180.2" y="376.5">93.75</text><text x="1213" y="376.5">93.75</text><text x="1246.5" y="376.5" class="b">93.75</text><text x="1280" y="376.5" class="b">93.75</text><text x="1315.9" y="376.5">99.60</text><text x="1365" y="376.5">99.60</text><text x="1422.6" y="376.5" class="b">99.60</text><text x="1472" y="376.5">99.60</text>
<text x="1180.2" y="387.2">91.85</text><text x="1213" y="387.2">92.70</text><text x="1246.5" y="387.2">90.00</text><text x="1280" y="387.2">89.25</text><text x="1315.9" y="387.2">55.00</text><text x="1365" y="387.2">54.17</text><text x="1422.6" y="387.2">53.62</text><text x="1472" y="387.2">51.84</text>
<text x="1180.2" y="398" class="b">95.45</text><text x="1213" y="398" class="b">95.55</text><text x="1246.5" y="398">49.40</text><text x="1280" y="398">48.90</text><text x="1315.9" y="398" class="b">99.93</text><text x="1365" y="398" class="b">99.93</text><text x="1422.6" y="398">99.54</text><text x="1472" y="398" class="b">99.85</text>
<text x="1180.2" y="408.7">92.08</text><text x="1213" y="408.7">92.65</text><text x="1246.5" y="408.7">90.55</text><text x="1280" y="408.7">91.30</text><text x="1315.9" y="408.7">-</text><text x="1365" y="408.7">-</text><text x="1422.6" y="408.7">-</text><text x="1472" y="408.7">-</text>
<rect x="1119.6" y="413.4" width="382.4" height="0.9" fill="#000"/>
</g>

<rect x="1091.8" y="449.9" width="439.2" height="104.1" fill="#f1f1f1"/>
<text x="1096" y="463.2" font-size="11" class="b" textLength="388.5" lengthAdjust="spacingAndGlyphs">Single-model attribution accuracy of generative models in other domains</text>
<g font-size="8.5" text-anchor="middle" class="s">
<text x="1195.3" y="480.2" font-size="7.5" text-decoration="underline">Medical Data</text>
<text x="1194.7" y="495" class="s">WGAN-GP</text><text x="1249" y="495" class="s">C-DCGAN</text>
<rect x="1119" y="500" width="153.4" height="0.6" fill="#000"/>
<g text-anchor="start"><text x="1120.9" y="511" class="s">SM-F</text><text x="1120.9" y="521.7" class="s">RawPAD</text><text x="1120.9" y="532.1" class="s">DCTPAD</text><text x="1120.9" y="542.8" class="s">FLIPAD</text></g>
<text x="1194.7" y="511" class="b">99.81</text><text x="1249" y="511" class="b">99.81</text>
<text x="1194.7" y="521.7">99.73</text><text x="1249" y="521.7">78.76</text>
<text x="1194.7" y="532.1">99.73</text><text x="1249" y="532.1">71.49</text>
<text x="1194.7" y="542.8">99.75</text><text x="1249" y="542.8">99.63</text>
<rect x="1119" y="547.3" width="153.4" height="0.9" fill="#000"/>
<text x="1415" y="483.3" font-size="7.5" text-decoration="underline">Tabular Data</text>
<text x="1383.4" y="500" class="s">TVAE</text><text x="1424.5" y="500" class="s">CTGAN</text><text x="1477.2" y="500" class="s">CopulaGAN</text>
<rect x="1321.6" y="505.4" width="181.8" height="0.6" fill="#000"/>
<g text-anchor="start"><text x="1324" y="516" class="s">SM-Inv<tspan font-size="5.5" dy="1">2</tspan><tspan font-size="4" dy="-4">4</tspan></text><text x="1324" y="526.7" class="s">RawPAD</text><text x="1324" y="537.5" class="s">FLIPAD</text></g>
<text x="1383.4" y="516">88.02</text><text x="1424.5" y="516">95.74</text><text x="1477.2" y="516">94.45</text>
<text x="1383.4" y="526.7">90.61</text><text x="1424.5" y="526.7">96.60</text><text x="1477.2" y="526.7">94.93</text>
<text x="1383.4" y="537.5" class="b">91.18</text><text x="1424.5" y="537.5" class="b">98.07</text><text x="1477.2" y="537.5" class="b">96.70</text>
<rect x="1321.6" y="542.9" width="181.8" height="0.9" fill="#000"/>
</g>

<rect x="1091.8" y="572" width="439.2" height="43.5" rx="8" fill="#9bbb59"/>
<circle cx="1116.8" cy="591" r="9" fill="none" stroke="#fff" stroke-width="1.4"/><text x="1116.8" y="595.7" font-size="13" class="w" text-anchor="middle">!</text>
<text x="1145.5" y="590" font-size="13" class="b w" textLength="352" lengthAdjust="spacingAndGlyphs">FLIPAD can generalize to multiple settings and domains,</text>
<text x="1145.5" y="606.5" font-size="13" class="b w" textLength="270.8" lengthAdjust="spacingAndGlyphs">including medical images and tabular data.</text>

<text x="1081.7" y="650.5" font-size="17" class="b" textLength="184" lengthAdjust="spacingAndGlyphs">Benefits &amp; Limitations</text>
<rect x="1289.4" y="645.7" width="256.2" height="1.5" fill="#000"/>
<g fill="#9bbb59"><path d="M1085.5 663 h4 v4 h3.5 v4 h-3.5 v4 h-4 v-4 h-3.5 v-4 h3.5z"/><path d="M1085.5 732.4 h4 v4 h3.5 v4 h-3.5 v4 h-4 v-4 h-3.5 v-4 h3.5z"/><path d="M1085.5 765 h4 v4 h3.5 v4 h-3.5 v4 h-4 v-4 h-3.5 v-4 h3.5z"/></g>
<g fill="#4f81bd"><rect x="1312" y="667" width="10.6" height="4"/><rect x="1312" y="751.7" width="10.6" height="4"/><rect x="1312" y="801.2" width="10.6" height="4"/></g>
<g font-size="13.5">
<text x="1097.8" y="674" class="b" textLength="161.6" lengthAdjust="spacingAndGlyphs">Open-world single-model</text>
<text x="1097.8" y="690.3" textLength="197" lengthAdjust="spacingAndGlyphs"><tspan class="b">attribution</tspan> without altering the</text>
<text x="1097.8" y="706.7" textLength="144.6" lengthAdjust="spacingAndGlyphs">model training process</text>
<text x="1097.8" y="743" textLength="196.3" lengthAdjust="spacingAndGlyphs">Applicable to <tspan class="b">multiple domains</tspan></text>
<text x="1097.8" y="775.6" textLength="184.3" lengthAdjust="spacingAndGlyphs">The proposed inversion has a</text>
<text x="1097.8" y="792.6" textLength="175.5" lengthAdjust="spacingAndGlyphs"><tspan class="b">connection to lasso</tspan>, making</text>
<text x="1097.8" y="809" textLength="149.3" lengthAdjust="spacingAndGlyphs">FLIPAD <tspan class="b">computationally</tspan></text>
<text x="1097.8" y="825.9" textLength="157.5" lengthAdjust="spacingAndGlyphs"><tspan class="b">efficient</tspan> and allowing for</text>
<text x="1097.8" y="842.1" class="b" textLength="166.7" lengthAdjust="spacingAndGlyphs">theoretical considerations</text>
<text x="1328.8" y="674" class="b" textLength="187.8" lengthAdjust="spacingAndGlyphs">L<tspan font-size="8" dy="3">1</tspan><tspan dy="-3">-Regularization towards the</tspan></text>
<text x="1328.8" y="690.3" textLength="139.9" lengthAdjust="spacingAndGlyphs"><tspan class="b">avg. activation</tspan> may be</text>
<text x="1328.8" y="706.7" textLength="176.8" lengthAdjust="spacingAndGlyphs">unsuited for certain settings</text>
<text x="1328.8" y="723.5" textLength="124.7" lengthAdjust="spacingAndGlyphs">and difficult to tune</text>
<text x="1328.8" y="756.4" textLength="195.1" lengthAdjust="spacingAndGlyphs">Current version <tspan class="b">does not adapt</tspan></text>
<text x="1328.8" y="773.2" class="b" textLength="122.5" lengthAdjust="spacingAndGlyphs">to skip connections</text>
<text x="1328.8" y="806.3" textLength="177.7" lengthAdjust="spacingAndGlyphs"><tspan class="b">Performance deteriorates</tspan> in</text>
<text x="1328.8" y="822.9" textLength="187.2" lengthAdjust="spacingAndGlyphs">the presence of random <tspan class="b">noise</tspan></text>
<text x="1328.8" y="839.2" textLength="138.9" lengthAdjust="spacingAndGlyphs">and <tspan class="b">JPEG</tspan> compression</text>
</g>
<text x="1086.5" y="872.5" font-size="8.5" class="b" textLength="48" lengthAdjust="spacingAndGlyphs">References</text>
<g font-size="6">
<text x="1086.5" y="881.2" textLength="191.8" lengthAdjust="spacingAndGlyphs">¹ Ruff et al. Deep semi-supervised anomaly detection. <tspan class="i">ICLR</tspan>, 2020.</text>
<text x="1086.5" y="888.8" textLength="258.7" lengthAdjust="spacingAndGlyphs">² Beck and Teboulle. A fast iterative shrinkage-thresholding algorithm for linear inverse</text>
<text x="1086.5" y="896.7" textLength="150" lengthAdjust="spacingAndGlyphs">problems. <tspan class="i">SIAM Journal on Imaging Sciences</tspan>, 2009.</text>
<text x="1086.5" y="904.5" textLength="181.7" lengthAdjust="spacingAndGlyphs">³ Marra et al. Do GANs leave artificial fingerprints? <tspan class="i">MIPR</tspan>, 2019.</text>
<text x="1086.5" y="912.7" textLength="267.6" lengthAdjust="spacingAndGlyphs">⁴ Albright and McCloskey. Source generator attribution via inversion. <tspan class="i">CVPR Workshop</tspan>, 2019.</text>
<text x="1086.5" y="920.1" textLength="167.2" lengthAdjust="spacingAndGlyphs">⁵ Zhang et al. On attribution of deepfakes. <tspan class="i">Preprint</tspan>, 2021.</text>
</g>
<g>
<rect x="1385" y="855" width="55" height="57" fill="url(#qr)"/>
<rect x="1385" y="855" width="15" height="15" fill="#000"/><rect x="1387" y="857" width="11" height="11" fill="#fff"/><rect x="1389" y="859" width="7" height="7" fill="#000"/>
<rect x="1425" y="855" width="15" height="15" fill="#000"/><rect x="1427" y="857" width="11" height="11" fill="#fff"/><rect x="1429" y="859" width="7" height="7" fill="#000"/>
<rect x="1385" y="897" width="15" height="15" fill="#000"/><rect x="1387" y="899" width="11" height="11" fill="#fff"/><rect x="1389" y="901" width="7" height="7" fill="#000"/>
<rect x="1477" y="855" width="58" height="57" fill="url(#qr)"/>
<rect x="1477" y="855" width="15" height="15" fill="#000"/><rect x="1479" y="857" width="11" height="11" fill="#fff"/><rect x="1481" y="859" width="7" height="7" fill="#000"/>
<rect x="1520" y="855" width="15" height="15" fill="#000"/><rect x="1522" y="857" width="11" height="11" fill="#fff"/><rect x="1524" y="859" width="7" height="7" fill="#000"/>
<rect x="1477" y="897" width="15" height="15" fill="#000"/><rect x="1479" y="899" width="11" height="11" fill="#fff"/><rect x="1481" y="901" width="7" height="7" fill="#000"/>
</g>
<text x="1413" y="930" font-size="11" class="i" text-anchor="middle">Paper</text>
<text x="1508" y="930" font-size="11" class="i" text-anchor="middle">Code</text>
</svg>
</body></html>
